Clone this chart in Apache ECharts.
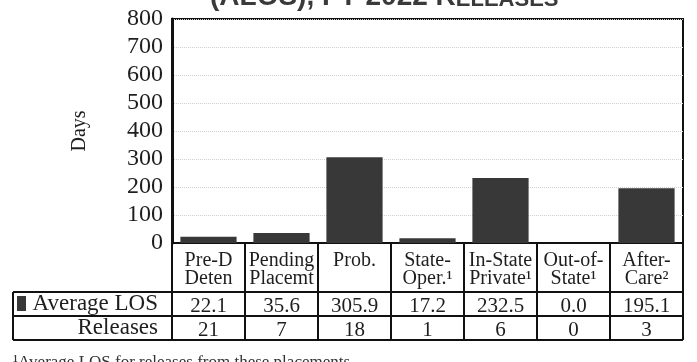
<!DOCTYPE html>
<html>
<head>
<meta charset="utf-8">
<script src="https://cdn.jsdelivr.net/npm/echarts@6/dist/echarts.min.js"></script>
<style>
  html, body { margin: 0; padding: 0; background: #fff; }
  #chart { width: 697px; height: 362px; }
</style>
</head>
<body>
<div id="chart"></div>
<script>
// 类别（表头）
var categories = ['Pre-D\nDeten', 'Pending\nPlacemt', 'Prob.\n ', 'State-\nOper.¹', 'In-State\nPrivate¹', 'Out-of-\nState¹', 'After-\nCare²'];
// 平均在押天数
var avgLos = [22.1, 35.6, 305.9, 17.2, 232.5, 0.0, 195.1];
// 释放人数
var releases = [21, 7, 18, 1, 6, 0, 3];
// y轴刻度
var yTicks = [0, 800, 100];

var serif = 'Liberation Serif';
var ink = '#1e1e1e';

// 版面
var gLeft = 172, gRight = 683, gTop = 19, gBottom = 243;
var rowTop = 292, rowMid = 316, rowBot = 340, boxLeft = 13;

var chart = echarts.init(document.getElementById('chart'));

var option = {
    backgroundColor: '#fff',
    animation: false,
    grid: {
        left: gLeft,
        right: 697 - gRight,
        top: gTop,
        bottom: 362 - gBottom,
        show: true,
        borderColor: '#111',
        borderWidth: 2
    },
    xAxis: [
        {
            // 表头
            type: 'category',
            data: categories,
            position: 'bottom',
            axisLine: { show: true, lineStyle: { color: '#111', width: 2 } },
            axisTick: { show: true, length: rowBot - gBottom, lineStyle: { color: '#111', width: 2 } },
            axisLabel: {
                margin: 9,
                fontFamily: serif,
                fontSize: 20,
                lineHeight: 18,
                color: ink,
                interval: 0
            }
        },
        {
            // 平均LOS 行
            type: 'category',
            data: avgLos.map(function (v) { return v.toFixed(1); }),
            position: 'bottom',
            axisLine: { show: false },
            axisTick: { show: false },
            axisLabel: { margin: 53, fontFamily: serif, fontSize: 21, color: ink, interval: 0 }
        },
        {
            // 释放人数 行
            type: 'category',
            data: releases.map(String),
            position: 'bottom',
            axisLine: { show: false },
            axisTick: { show: false },
            axisLabel: { margin: 77, fontFamily: serif, fontSize: 21, color: ink, interval: 0 }
        }
    ],
    yAxis: {
        type: 'value',
        min: yTicks[0],
        max: yTicks[1],
        interval: yTicks[2],
        name: 'Days',
        nameLocation: 'middle',
        nameRotate: 90,
        nameGap: 82,
        nameTextStyle: { fontFamily: serif, fontSize: 20, color: ink },
        axisLine: { show: true, lineStyle: { color: '#111', width: 3 } },
        axisTick: { show: false },
        axisLabel: { margin: 9, fontFamily: serif, fontSize: 24, color: ink },
        splitLine: { show: true, lineStyle: { color: '#cfcfcf', type: 'dotted', width: 1 } }
    },
    series: [{
        name: 'Average LOS',
        type: 'bar',
        xAxisIndex: 0,
        data: avgLos,
        barWidth: '77%',
        itemStyle: { color: '#383838' }
    }],
    graphic: [
        // 被裁切的标题
        {
            type: 'text', left: 210, top: -17,
            style: {
                text: '{a|(ALOS), FY 2022 R}{b|ELEASES}',
                rich: {
                    a: { fontFamily: 'Liberation Sans', fontWeight: 'bold', fontSize: 28, fill: '#3a3a3a' },
                    b: { fontFamily: 'Liberation Sans', fontWeight: 'bold', fontSize: 22, fill: '#3a3a3a', verticalAlign: 'bottom' }
                }
            }
        },
        // 表格横线
        { type: 'line', shape: { x1: boxLeft, y1: rowTop, x2: gRight, y2: rowTop }, style: { stroke: '#111', lineWidth: 2 } },
        { type: 'line', shape: { x1: boxLeft, y1: rowMid, x2: gRight, y2: rowMid }, style: { stroke: '#111', lineWidth: 2 } },
        { type: 'line', shape: { x1: boxLeft, y1: rowBot, x2: gRight, y2: rowBot }, style: { stroke: '#111', lineWidth: 2 } },
        { type: 'line', shape: { x1: boxLeft, y1: rowTop, x2: boxLeft, y2: rowBot }, style: { stroke: '#111', lineWidth: 2 } },
        // 图例方块
        { type: 'rect', shape: { x: 17, y: 296, width: 9, height: 15 }, style: { fill: '#383838' } },
        {
            type: 'text', x: 158, y: 304,
            style: { text: 'Average LOS', align: 'right', verticalAlign: 'middle', fontFamily: serif, fontSize: 23, fill: ink }
        },
        {
            type: 'text', x: 158, y: 328,
            style: { text: 'Releases', align: 'right', verticalAlign: 'middle', fontFamily: serif, fontSize: 23, fill: ink }
        },
        // 脚注
        {
            type: 'text', x: 13, y: 354,
            style: { text: '¹Average LOS for releases from these placements', fontFamily: serif, fontSize: 17, fill: '#333' }
        }
    ]
};

chart.setOption(option);
</script>
</body>
</html>
